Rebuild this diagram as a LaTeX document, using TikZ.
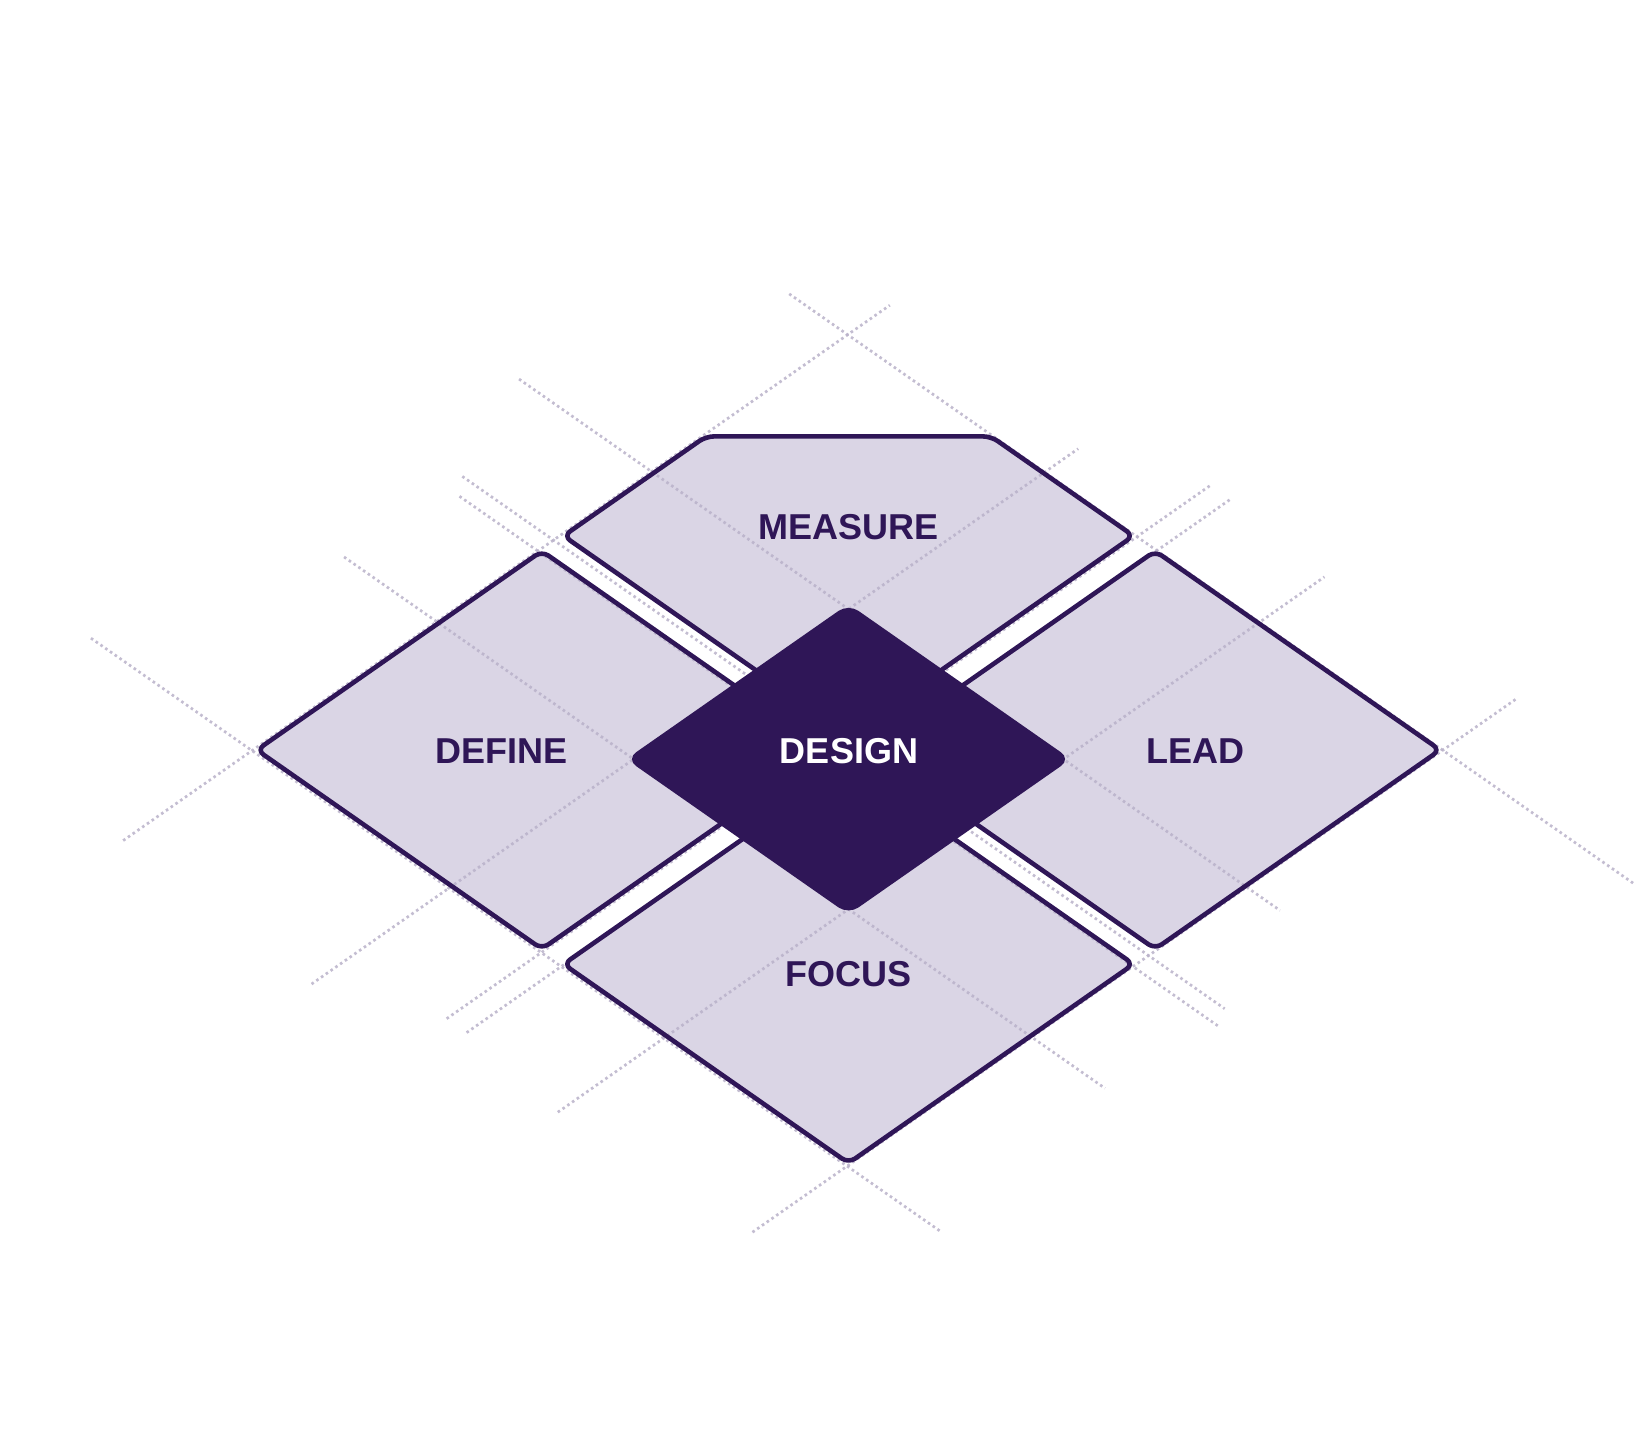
\documentclass[tikz,border=0pt]{standalone}
\usepackage{fontspec}
\setmainfont{Liberation Sans}
\definecolor{ink}{HTML}{2F1657}
\definecolor{tilefill}{HTML}{DAD5E5}
\definecolor{dots}{HTML}{B9B1C9}
\tikzset{
  tile/.style={fill=tilefill, rounded corners=4pt},
  tileedge/.style={draw=ink, line width=2.3pt, rounded corners=4pt, line join=round},
  core/.style={fill=ink, rounded corners=6pt},
  gridline/.style={draw=dots, opacity=0.85, line width=1.35pt, dash pattern=on 1.3pt off 1.6pt},
  tilelabel/.style={font=\fontsize{18pt}{18pt}\selectfont\bfseries, text=ink, inner sep=0pt}
}
% tiles in lattice coordinates
\def\definetile{(-1.038,-1.038) -- (-1.038,-0.038) -- (-0.038,-0.038) -- (-0.038,-1.038) -- cycle}
\def\measuretile{(-1.038,0.038) -- (-1.038,0.538) -- (-0.538,1.038) -- (-0.038,1.038) -- (-0.038,0.038) -- cycle}
\def\leadtile{(0.038,0.038) -- (0.038,1.038) -- (1.038,1.038) -- (1.038,0.038) -- cycle}
\def\focustile{(0.038,-1.038) -- (0.038,-0.038) -- (1.038,-0.038) -- (1.038,-1.038) -- cycle}

\begin{document}
\begin{tikzpicture}[x=0.5pt, y=-0.5pt]
  \useasboundingbox (0,0) rectangle (1638,1432);
  \begin{scope}[shift={(848.5,750)}, x={(142.5pt,-99.5pt)}, y={(142.5pt,99.5pt)}]
    \fill[tile] \definetile;
    \fill[tile] \measuretile;
    \fill[tile] \leadtile;
    \fill[tile] \focustile;
    % guide lines
    \foreach \s/\from/\to in {-1.045/-1.50/1.19, -0.354/-1.53/1.16, -0.03/-1.38/1.30,
                              0.04/-1.38/1.30, 0.40/-1.42/1.27, 1.043/-1.38/1.30}
      \draw[gridline] (\s,\from) -- (\s,\to);
    \foreach \t/\from/\to in {1.042/-1.25/1.72, 0.354/-1.51/1.16, 0.01/-1.365/1.31,
                              -0.045/-1.32/1.345, -0.40/-1.37/1.30, -1.048/-1.61/1.37}
      \draw[gridline] (\from,\t) -- (\to,\t);
    \draw[tileedge] \definetile;
    \draw[tileedge] \measuretile;
    \draw[tileedge] \leadtile;
    \draw[tileedge] \focustile;
    \begin{scope}[shift={(0.023,-0.023)}]
      \fill[core] (-0.39,-0.39) -- (-0.39,0.39) -- (0.39,0.39) -- (0.39,-0.39) -- cycle;
    \end{scope}
  \end{scope}
  \node[tilelabel] (measure) at (848.5,527.5) {MEASURE};
  \node[tilelabel] (define) at (501.5,751.5) {DEFINE};
  \node[tilelabel] (lead) at (1195,751.5) {LEAD};
  \node[tilelabel] (focus) at (848.5,974) {FOCUS};
  \node[tilelabel, text=white] (design) at (849,751.5) {DESIGN};
\end{tikzpicture}
\end{document}
